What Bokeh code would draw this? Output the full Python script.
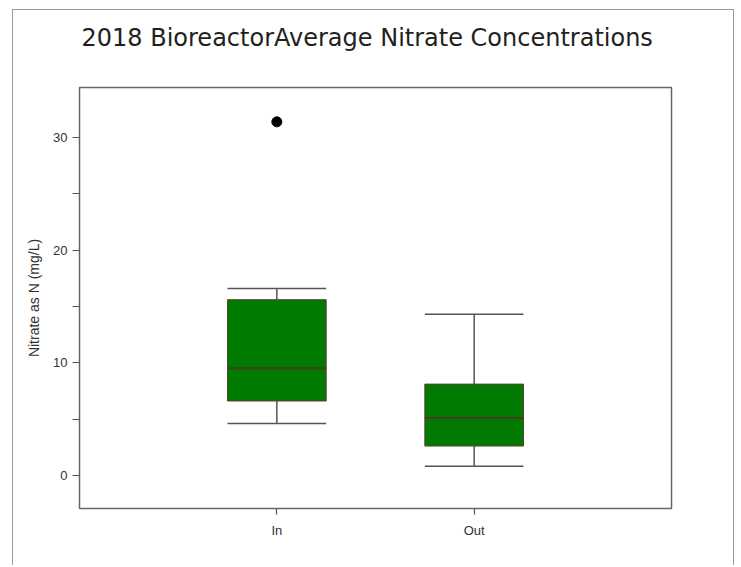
from bokeh.plotting import figure
from bokeh.models import Range1d, FixedTicker, ColumnDataSource, LinearAxis
from bokeh.transform import dodge
from bokeh.embed import file_html
from bokeh.resources import INLINE

# ---- data ----
categories = ["In", "Out"]
lower_whisker = [4.6, 0.8]
q1 = [6.6, 2.6]
median = [9.5, 5.1]
q3 = [15.6, 8.1]
upper_whisker = [16.6, 14.3]
outlier_cat = ["In"]
outlier_val = [31.4]
y_major_ticks = [0, 10, 20, 30]
y_minor_ticks = [5, 15, 25]

positions = [i + 1 for i in range(len(categories))]
outlier_pos = [positions[categories.index(c)] for c in outlier_cat]

src = ColumnDataSource(dict(x=positions, lw=lower_whisker, q1=q1, med=median,
                            q3=q3, uw=upper_whisker))

p = figure(width=722, height=556, output_backend="svg", toolbar_location=None,
           x_range=Range1d(0, len(categories) + 1),
           y_range=Range1d(-2.95, 34.45),
           min_border_left=66, min_border_right=64, min_border_top=77,
           min_border_bottom=58, tools="")

# outer page frame (no bottom edge visible in the reference)
p.margin = (9, 0, 0, 12)
p.styles = {"border-top": "1.5px solid #9a9a9a",
            "border-left": "1.5px solid #9a9a9a",
            "border-right": "1.5px solid #9a9a9a"}

p.background_fill_color = "white"
p.border_fill_color = "white"
p.outline_line_color = "#666666"
p.outline_line_width = 1.5
p.grid.visible = False

# invisible spacer between plot box and title
spacer = LinearAxis(ticker=FixedTicker(ticks=[1.5], minor_ticks=[]),
                    major_label_overrides={1.5: ""},
                    major_label_text_font_size="1px",
                    axis_line_color=None, major_tick_line_color=None,
                    minor_tick_line_color=None, major_tick_out=31,
                    major_tick_in=0, minor_tick_out=0, minor_tick_in=0,
                    major_label_standoff=0)
p.add_layout(spacer, "above")

# title
p.title.text = "2018 BioreactorAverage Nitrate Concentrations"
p.title.text_font = "DejaVu Sans"
p.title.text_font_size = "24px"
p.title.text_font_style = "normal"
p.title.text_color = "#231f20"
p.title.align = "left"
p.title.offset = 2
p.title.standoff = 10

# axes
xax = p.below[0]
yax = p.left[0]
for ax in (xax, yax):
    ax.axis_line_color = None
    ax.major_tick_line_color = "#555555"
    ax.major_tick_line_width = 1.2
    ax.minor_tick_line_color = "#555555"
    ax.minor_tick_line_width = 1.2
    ax.major_tick_in = 0
    ax.minor_tick_in = 0
    ax.major_label_text_font = "Liberation Sans"
    ax.major_label_text_font_size = "13px"
    ax.major_label_text_color = "#333333"

xax.ticker = FixedTicker(ticks=positions, minor_ticks=[])
xax.major_label_overrides = {pos: cat for pos, cat in zip(positions, categories)}
xax.major_tick_out = 6
xax.minor_tick_out = 0
xax.major_label_standoff = 8

yax.ticker = FixedTicker(ticks=y_major_ticks, minor_ticks=y_minor_ticks)
yax.major_tick_out = 7
yax.minor_tick_out = 7
yax.major_label_orientation = "horizontal"
yax.major_label_standoff = 5
yax.axis_label = "Nitrate as N (mg/L)"
yax.axis_label_text_font = "Liberation Sans"
yax.axis_label_text_font_size = "14px"
yax.axis_label_text_font_style = "normal"
yax.axis_label_text_color = "#333333"
yax.axis_label_standoff = 8

# whiskers
p.segment(x0="x", y0="q3", x1="x", y1="uw", source=src,
          line_color="#555555", line_width=1.5)
p.segment(x0="x", y0="q1", x1="x", y1="lw", source=src,
          line_color="#555555", line_width=1.5)
p.segment(x0=dodge("x", -0.25), y0="uw", x1=dodge("x", 0.25), y1="uw",
          source=src, line_color="#555555", line_width=1.5)
p.segment(x0=dodge("x", -0.25), y0="lw", x1=dodge("x", 0.25), y1="lw",
          source=src, line_color="#555555", line_width=1.5)

# boxes
p.vbar(x="x", width=0.5, bottom="q1", top="q3", source=src,
       fill_color="#007a00", line_color="#5a4426", line_width=1)
p.segment(x0=dodge("x", -0.25), y0="med", x1=dodge("x", 0.25), y1="med",
          source=src, line_color="#4a3a1e", line_width=2)

# outlier
p.scatter(x=outlier_pos, y=outlier_val, size=10, color="black")

open("out.html", "w").write(file_html(p, INLINE))
